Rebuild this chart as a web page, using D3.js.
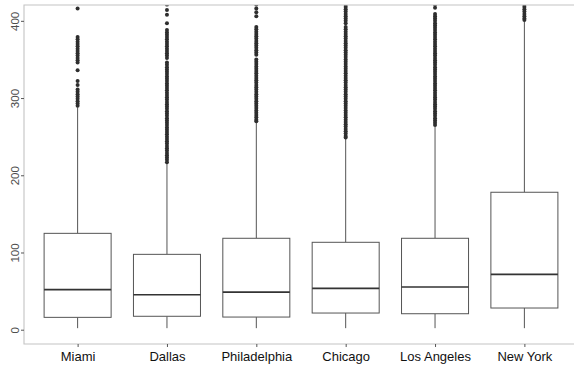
<!DOCTYPE html>
<html>
<head>
<meta charset="utf-8">
<script src="https://cdn.jsdelivr.net/npm/d3@7"></script>
<style>
  html, body { margin: 0; padding: 0; background: #fff; }
  svg { display: block; }
</style>
</head>
<body>
<svg id="chart" width="574" height="366"></svg>
<script>
// Box statistics per city
const cities = ["Miami", "Dallas", "Philadelphia", "Chicago", "Los Angeles", "New York"];
const whiskerLow = [2, 2, 2, 2, 2, 2];
const q1 = [16, 17.4, 16.4, 21.6, 20.7, 28.1];
const medians = [51.8, 45.3, 48.8, 53.6, 55.3, 71.7];
const q3 = [124.8, 97.6, 118.4, 113.2, 118.4, 178];
const whiskerHigh = [288, 215, 269, 248, 263, 399];

// Outlying observations per city
const outliersMiami = [416, 379, 376, 373, 370, 367, 364, 361, 358, 355, 352, 349, 346, 336, 322, 317, 311, 308, 305, 302, 299, 296, 293, 290];
const outliersDallas = [421, 414, 408, 397, 388, 385, 382, 379, 376, 373, 370, 367, 364, 361, 358, 355, 352, 346, 343, 340, 337, 334, 331, 328, 325, 322, 319, 316, 313, 310, 307, 304, 301, 298, 295, 292, 289, 286, 283, 280, 277, 274, 271, 268, 265, 262, 259, 256, 253, 250, 247, 244, 241, 238, 235, 232, 229, 226, 223, 220, 217];
const outliersPhiladelphia = [421, 416, 411, 406, 392, 389, 386, 383, 380, 377, 374, 371, 368, 365, 362, 359, 356, 350, 347, 344, 341, 338, 335, 332, 329, 326, 323, 320, 317, 314, 311, 308, 305, 302, 299, 296, 293, 290, 287, 284, 281, 278, 275, 272, 270];
const outliersChicago = [421, 418, 415, 412, 409, 406, 403, 400, 397, 392, 389, 386, 383, 380, 377, 374, 371, 368, 365, 362, 359, 356, 353, 350, 347, 344, 341, 338, 335, 332, 329, 326, 323, 320, 317, 314, 311, 308, 305, 302, 299, 296, 293, 290, 287, 284, 281, 278, 275, 272, 269, 266, 263, 260, 257, 254, 251, 249];
const outliersLosAngeles = [421, 417, 409, 406, 403, 400, 397, 394, 391, 388, 385, 382, 379, 376, 373, 370, 367, 364, 361, 358, 355, 352, 349, 346, 343, 340, 337, 334, 331, 328, 325, 322, 319, 316, 313, 310, 307, 304, 301, 298, 295, 292, 289, 286, 283, 280, 277, 274, 271, 268, 265];
const outliersNewYork = [421, 418, 415, 412, 409, 406, 403, 401];
const outliers = [outliersMiami, outliersDallas, outliersPhiladelphia, outliersChicago, outliersLosAngeles, outliersNewYork];

const yTicks = [0, 100, 200, 300, 400];

const rows = cities.map((c, i) => ({
  city: c, lo: whiskerLow[i], q1: q1[i], med: medians[i], q3: q3[i], hi: whiskerHigh[i], out: outliers[i]
}));

const panel = { left: 24, top: 5, right: 578, bottom: 344 };

const svg = d3.select("#chart");

const x = d3.scalePoint()
  .domain(cities)
  .range([panel.left, panel.right])
  .padding(0.6);

const y = d3.scaleLinear()
  .domain([-18.5, 420.5])
  .range([panel.bottom, panel.top]);

const boxW = x.step() * 0.75;

svg.append("defs").append("clipPath").attr("id", "panel-clip")
  .append("rect")
  .attr("x", panel.left).attr("y", panel.top)
  .attr("width", panel.right - panel.left).attr("height", panel.bottom - panel.top);

const plot = svg.append("g").attr("clip-path", "url(#panel-clip)");

const groups = plot.selectAll("g.box")
  .data(rows)
  .join("g")
  .attr("class", "box");

// upper and lower whiskers
groups.append("line")
  .attr("x1", d => x(d.city)).attr("x2", d => x(d.city))
  .attr("y1", d => y(d.q3)).attr("y2", d => y(d.hi))
  .attr("stroke", "#555").attr("stroke-width", 1);
groups.append("line")
  .attr("x1", d => x(d.city)).attr("x2", d => x(d.city))
  .attr("y1", d => y(d.q1)).attr("y2", d => y(d.lo))
  .attr("stroke", "#555").attr("stroke-width", 1);

// interquartile boxes
groups.append("rect")
  .attr("x", d => x(d.city) - boxW / 2)
  .attr("width", boxW)
  .attr("y", d => y(d.q3))
  .attr("height", d => y(d.q1) - y(d.q3))
  .attr("fill", "#fff")
  .attr("stroke", "#555")
  .attr("stroke-width", 1);

// medians
groups.append("line")
  .attr("x1", d => x(d.city) - boxW / 2).attr("x2", d => x(d.city) + boxW / 2)
  .attr("y1", d => y(d.med)).attr("y2", d => y(d.med))
  .attr("stroke", "#333").attr("stroke-width", 1.7);

// outliers
groups.selectAll("circle")
  .data(d => d.out.map(v => ({ city: d.city, v })))
  .join("circle")
  .attr("cx", d => x(d.city))
  .attr("cy", d => y(d.v))
  .attr("r", 2)
  .attr("fill", "#2e2e2e");

// panel border (left, top, bottom)
const borderColor = "#c4c4c4";
svg.append("path")
  .attr("d", `M${panel.right},${panel.top}H${panel.left}V${panel.bottom}H${panel.right}`)
  .attr("fill", "none")
  .attr("stroke", borderColor)
  .attr("stroke-width", 1.1);

// y axis
const yAxis = svg.append("g")
  .attr("transform", `translate(${panel.left},0)`)
  .call(d3.axisLeft(y).tickValues(yTicks).tickSize(3).tickPadding(2).tickFormat(d3.format("d")));
yAxis.select(".domain").remove();
yAxis.selectAll(".tick line").attr("stroke", "#555");
yAxis.selectAll(".tick text")
  .attr("transform", "rotate(-90)")
  .attr("x", 0)
  .attr("y", -5)
  .attr("dy", 0)
  .attr("text-anchor", "middle")
  .attr("fill", "#4d4d4d")
  .style("font-family", "'Liberation Sans', Arial, sans-serif")
  .style("font-size", "11.5px");

// x axis
const xAxis = svg.append("g")
  .attr("transform", `translate(0,${panel.bottom})`)
  .call(d3.axisBottom(x).tickSize(3).tickPadding(5));
xAxis.select(".domain").remove();
xAxis.selectAll(".tick line").attr("stroke", "#555");
xAxis.selectAll(".tick text")
  .attr("fill", "#111")
  .style("font-family", "'Liberation Sans', Arial, sans-serif")
  .style("font-size", "13px");
</script>
</body>
</html>
